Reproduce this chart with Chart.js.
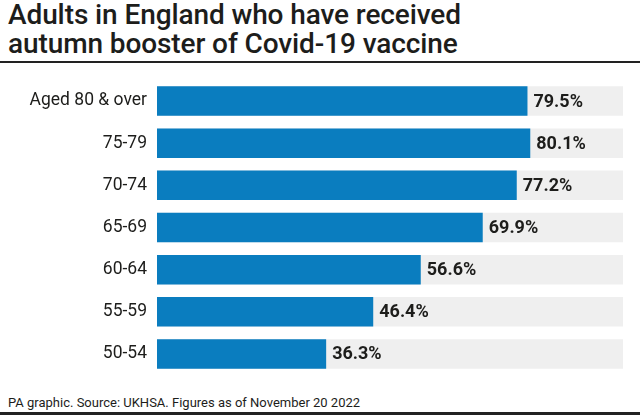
<!DOCTYPE html>
<html>
<head>
<meta charset="utf-8">
<script src="https://cdn.jsdelivr.net/npm/chart.js@4"></script>
<style>
  html, body { margin: 0; padding: 0; background: #fff; }
  body { width: 640px; height: 417px; position: relative; overflow: hidden; font-family: Roboto, "Liberation Sans", sans-serif; color: #1d1d1b; }
  .title { position: absolute; left: 8px; top: 0px; font-size: 28px; font-weight: 500; line-height: 29px; letter-spacing: -0.1px; }
  .rule-top { position: absolute; left: 0; top: 61px; width: 640px; height: 2px; background: #222; }
  .chart-container { position: absolute; left: 0; top: 80px; width: 640px; height: 295px; }
  .footer { position: absolute; left: 8px; top: 395px; font-size: 13px; }
  .rule-bottom { position: absolute; left: 0; top: 412px; width: 640px; height: 3px; background: #222; }
</style>
</head>
<body>
<div class="title">Adults in England who have received<br>autumn booster of Covid-19 vaccine</div>
<div class="rule-top"></div>
<div class="chart-container"><canvas id="chart"></canvas></div>
<div class="footer">PA graphic. Source: UKHSA. Figures as of November 20 2022</div>
<div class="rule-bottom"></div>
<script>
const ageGroups = ['Aged 80 & over', '75-79', '70-74', '65-69', '60-64', '55-59', '50-54'];
const boosterUptake = [79.5, 80.1, 77.2, 69.9, 56.6, 46.4, 36.3];
const trackMax = 100;

// percentage label just past the end of each blue bar
const valueLabels = {
  id: 'valueLabels',
  afterDatasetsDraw(chart) {
    const ctx = chart.ctx;
    const meta = chart.getDatasetMeta(0);
    ctx.save();
    ctx.font = 'bold 18px Roboto, "Liberation Sans", sans-serif';
    ctx.fillStyle = '#1d1d1b';
    ctx.textAlign = 'left';
    ctx.textBaseline = 'middle';
    meta.data.forEach((bar, i) => {
      ctx.fillText(boosterUptake[i].toFixed(1) + '%', bar.x + 6, bar.y + 1);
    });
    ctx.restore();
  }
};

const ctx = document.getElementById('chart').getContext('2d');
new Chart(ctx, {
  type: 'bar',
  data: {
    labels: ageGroups,
    datasets: [
      {
        data: boosterUptake,
        backgroundColor: '#0a7dbf',
        order: 0,
      },
      {
        data: ageGroups.map(() => trackMax),
        backgroundColor: '#efefef',
        order: 1,
      },
    ],
  },
  options: {
    indexAxis: 'y',
    responsive: true,
    maintainAspectRatio: false,
    animation: false,
    layout: { padding: { left: 0, right: 17, top: 0, bottom: 0 } },
    datasets: {
      bar: { grouped: false, categoryPercentage: 1, barPercentage: 0.7 },
    },
    plugins: {
      legend: { display: false },
      tooltip: { enabled: false },
    },
    scales: {
      x: {
        display: false,
        min: 0,
        max: trackMax,
      },
      y: {
        afterFit(scale) {
          scale.width = 157;
          scale.paddingTop = 0;
          scale.paddingBottom = 0;
        },
        grid: { display: false, drawTicks: false },
        border: { display: false },
        ticks: {
          padding: 10,
          color: '#1d1d1b',
          font: { family: 'Roboto, "Liberation Sans", sans-serif', size: 17.5 },
        },
      },
    },
  },
  plugins: [valueLabels],
});
</script>
</body>
</html>
